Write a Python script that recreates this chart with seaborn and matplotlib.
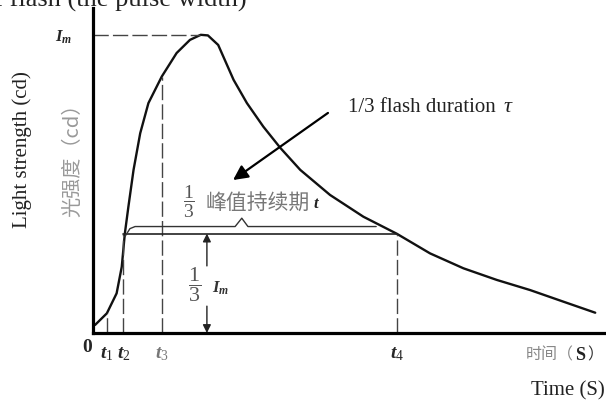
import numpy as np
import pandas as pd
import seaborn as sns
import matplotlib.pyplot as plt

# flash curve: time in arbitrary units (axis 0-100), intensity relative to Im
time = [0.4, 2.7, 4.6, 5.6, 6.2, 6.9, 7.9, 9.2, 10.8, 13.4, 16.3, 18.9, 21.0, 22.4,
        24.4, 25.4, 27.4, 30.0, 33.2, 36.5, 40.4, 46.2, 52.7, 59.2, 65.7, 72.2, 78.7,
        85.2, 91.7, 97.9]
intensity = [0.027, 0.066, 0.133, 0.222, 0.333, 0.424, 0.547, 0.670, 0.771, 0.860, 0.939,
             0.983, 1.0, 0.998, 0.966, 0.927, 0.849, 0.771, 0.692, 0.621, 0.547, 0.463,
             0.390, 0.333, 0.267, 0.217, 0.178, 0.144, 0.105, 0.068]

# marked instants and where their dashed guides stop
t_marks = [2.7, 5.9, 13.4, 59.2]
t_names = ['$t_1$', '$t_2$', '$t_3$', '$t_4$']
t_tops = [0.066, 0.333, 0.860, 0.333]

peak_t = 20.9
third = 1 / 3

# brace above the 1/3 line
brace_t = [6.2, 7.2, 8.2, 27.7, 29.0, 30.2, 55.2]
brace_i = [0.323, 0.350, 0.357, 0.357, 0.385, 0.357, 0.357]

sns.set_theme(style='white')
plt.rcParams['font.family'] = ['Liberation Serif', 'DejaVu Sans']
plt.rcParams['mathtext.fontset'] = 'custom'
plt.rcParams['mathtext.rm'] = 'Liberation Serif'
plt.rcParams['mathtext.it'] = 'Liberation Serif:italic:bold'
plt.rcParams['mathtext.bf'] = 'Liberation Serif:bold'
cjk = ['Noto Sans CJK SC', 'DejaVu Sans']

fig = plt.figure(figsize=(6.06, 4.01), dpi=100)
ax = fig.add_axes([0.1535, 0.1696, 0.8465, 0.8105])

df = pd.DataFrame({'t': time, 'I': intensity})
sns.lineplot(data=df, x='t', y='I', sort=False, color='#111111', lw=1.7, ax=ax)

dash = dict(color='#444444', lw=1.0, dashes=(11, 3))
ax.plot([0, peak_t], [1, 1], **dash)
for tm, top in zip(t_marks, t_tops):
    ax.plot([tm, tm], [0, top], **dash)

# 1/3 Im level and the brace
ax.plot([t_marks[1], t_marks[3]], [third, third], color='#222222', lw=1.2)
ax.plot(brace_t, brace_i, color='#333333', lw=1.0)

# two arrows marking the 1/3 Im height
arr = dict(arrowstyle='-|>', color='#222222', lw=1.0, mutation_scale=12, shrinkA=0, shrinkB=0)
ax.annotate('', xy=(22.2, third), xytext=(22.2, 0.225), arrowprops=arr)
ax.annotate('', xy=(22.2, 0), xytext=(22.2, 0.09), arrowprops=arr)
ax.text(19.7, 0.161, r'$\dfrac{1}{3}$', fontsize=16, color='#555555', ha='center', va='center')
ax.text(24.8, 0.151, r'$I_m$', fontsize=12, color='#333333', ha='center', va='center')

ax.text(18.7, 0.44, r'$\dfrac{1}{3}$', fontsize=14, color='#555555', ha='center', va='center')
ax.text(22.0, 0.437, '峰值持续期', family=cjk, fontsize=15, color='#777777', va='center')
ax.text(43.6, 0.432, '$t$', fontsize=12, color='#222222', ha='center', va='center')

# pointer to the brace
ax.annotate('', xy=(27.3, 0.513), xytext=(45.8, 0.738),
            arrowprops=dict(arrowstyle='-|>', color='black', lw=1.6, mutation_scale=22,
                            shrinkA=0, shrinkB=0))
ax.text(49.7, 0.755, '1/3 flash duration', fontsize=15, color='#222222', va='center')
ax.text(80.0, 0.757, 'τ', fontsize=16, style='italic', color='#222222', va='center')

ax.set_xlim(0, 100)
ax.set_ylim(0, 1.09)
ax.set_xticks(t_marks)
ax.set_xticklabels(t_names, fontsize=14)
ax.get_xticklabels()[2].set_color('#777777')
ax.set_yticks([1.0])
ax.set_yticklabels([r'$I_m$'], fontsize=12)
ax.tick_params(axis='x', length=0, pad=9)
ax.tick_params(axis='y', length=0, pad=15)
ax.set_xlabel('')
ax.set_ylabel('')
ax.text(-1.2, -0.05, '0', fontsize=14, fontweight='bold', ha='center', va='center', clip_on=False)
ax.text(93.8, -0.074, '时间（', family=cjk, fontsize=11.5, color='#888888', ha='right',
        va='center', clip_on=False)
ax.text(93.9, -0.074, 'S', fontsize=13, fontweight='bold', color='#222222', ha='left',
        va='center', clip_on=False)
ax.text(96.3, -0.074, '）', family=cjk, fontsize=11.5, color='#333333', ha='left',
        va='center', clip_on=False)

for side in ['top', 'right']:
    ax.spines[side].set_visible(False)
for side in ['left', 'bottom']:
    ax.spines[side].set_color('black')
    ax.spines[side].set_linewidth(2.3)

fig.text(0.937, 0.025, 'Time (S)', fontsize=15, color='#222222', ha='center', va='center')
fig.text(0.036, 0.628, 'Light strength (cd)', fontsize=15, color='#222222', rotation=90,
         ha='center', va='center')
fig.text(0.120, 0.612, '光强度（cd）', family=cjk, fontsize=14.5, color='#999999', rotation=90,
         ha='center', va='center')
fig.text(0.4076, 0.9825, 'of flash (the pulse width)', fontsize=19, color='#222222',
         ha='right', va='baseline')

fig.savefig('out.png', dpi=100)
